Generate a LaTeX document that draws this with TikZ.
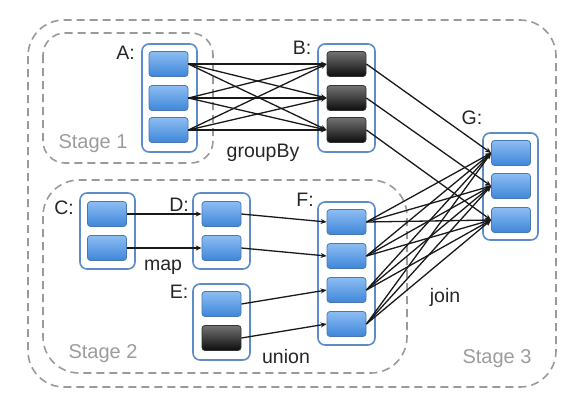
\documentclass[tikz,border=0pt]{standalone}
\usepackage{fontspec}
\setmainfont{Liberation Sans}
\usetikzlibrary{arrows.meta}
\definecolor{bluetop}{HTML}{8DBDF2}
\definecolor{bluebot}{HTML}{3E86DA}
\definecolor{blueedge}{HTML}{4A78B0}
\definecolor{contedge}{HTML}{5E8CC8}
\definecolor{stagegray}{HTML}{9A9A9A}
\definecolor{stagetext}{HTML}{9C9C9C}
\tikzset{
  bluebox/.style={rectangle, rounded corners=3, minimum width=39, minimum height=25, inner sep=0, top color=bluetop, bottom color=bluebot, draw=blueedge, line width=0.8},
  darkbox/.style={rectangle, rounded corners=3, minimum width=39, minimum height=25, inner sep=0, top color=black!55, bottom color=black!95, draw=black!80, line width=0.8},
  cont/.style={rectangle, rounded corners=7, draw=contedge, line width=1.6, fill=white, inner sep=0},
  stagebox/.style={draw=stagegray, dash pattern=on 8 off 5, line width=1.6},
  lbl/.style={font=\fontsize{19.5}{20}\selectfont, text=black!85, inner sep=0},
  stlbl/.style={font=\fontsize{20}{20}\selectfont, text=stagetext, inner sep=0},
  conn/.style={-{Stealth[length=6,width=5]}, line width=1.3, black!90},
}
\begin{document}
\begin{tikzpicture}[x=1pt,y=-1pt]
\useasboundingbox (0,0) rectangle (583,405);
% stages
\draw[stagebox, rounded corners=36] (28,20) rectangle (556,387);
\draw[stagebox, rounded corners=22] (43,33) rectangle (213,163);
\draw[stagebox, rounded corners=36] (43,180) rectangle (407,373);
% containers
\node[cont, minimum width=55, minimum height=108] (A) at (169.5,98) {};
\node[cont, minimum width=57, minimum height=108] (B) at (346.5,98) {};
\node[cont, minimum width=55, minimum height=107] (G) at (510.5,186.5) {};
\node[cont, minimum width=55, minimum height=76] (C) at (107.5,231) {};
\node[cont, minimum width=57, minimum height=76] (D) at (221.5,231) {};
\node[cont, minimum width=57, minimum height=76] (E) at (221.5,322) {};
\node[cont, minimum width=57, minimum height=143] (F) at (346.5,273.5) {};
% inner boxes
\node[bluebox] (a1) at (168.5,64) {};
\node[bluebox] (a2) at (168.5,98) {};
\node[bluebox] (a3) at (168.5,130) {};
\node[darkbox] (b1) at (346.5,64) {};
\node[darkbox] (b2) at (346.5,98) {};
\node[darkbox] (b3) at (346.5,130) {};
\node[bluebox] (g1) at (511,153) {};
\node[bluebox] (g2) at (511,186) {};
\node[bluebox] (g3) at (511,220) {};
\node[bluebox] (c1) at (107,214) {};
\node[bluebox] (c2) at (107,248) {};
\node[bluebox] (d1) at (221.5,214) {};
\node[bluebox] (d2) at (221.5,248) {};
\node[bluebox] (e1) at (221.5,304) {};
\node[darkbox] (e2) at (221.5,338) {};
\node[bluebox] (f1) at (346.5,222) {};
\node[bluebox] (f2) at (346.5,256) {};
\node[bluebox] (f3) at (346.5,290) {};
\node[bluebox] (f4) at (346.5,324) {};
% labels
\node[lbl] (la) at (125.5,53) {A:};
\node[lbl] (lb) at (302,48) {B:};
\node[lbl] (lg) at (472,118) {G:};
\node[lbl] (lc) at (64,208) {C:};
\node[lbl] (ld) at (179,205) {D:};
\node[lbl] (le) at (179,292) {E:};
\node[lbl] (lf) at (305,200) {F:};
\node[lbl] (gb) at (263,153) {groupBy};
\node[lbl] (mp) at (163,267) {map};
\node[lbl] (un) at (286,357) {union};
\node[lbl] (jn) at (445,297) {join};
\node[stlbl] (s1) at (93,144) {Stage 1};
\node[stlbl] (s2) at (103,354) {Stage 2};
\node[stlbl] (s3) at (497,359) {Stage 3};
% edges
\foreach \i in {1,2,3}{
  \foreach \j in {1,2,3}{
    \draw[conn] (a\i.east) -- (b\j.west);
  }
  \draw[conn] (b\i.east) -- (g\i.west);
}
\foreach \i in {1,2,3,4}{
  \foreach \j in {1,2,3}{
    \draw[conn] (f\i.east) -- (g\j.west);
  }
}
\draw[conn] (c1.east) -- (d1.west);
\draw[conn] (c2.east) -- (d2.west);
\draw[conn] (d1.east) -- (f1.west);
\draw[conn] (d2.east) -- (f2.west);
\draw[conn] (e1.east) -- (f3.west);
\draw[conn] (e2.east) -- (f4.west);
\end{tikzpicture}
\end{document}
